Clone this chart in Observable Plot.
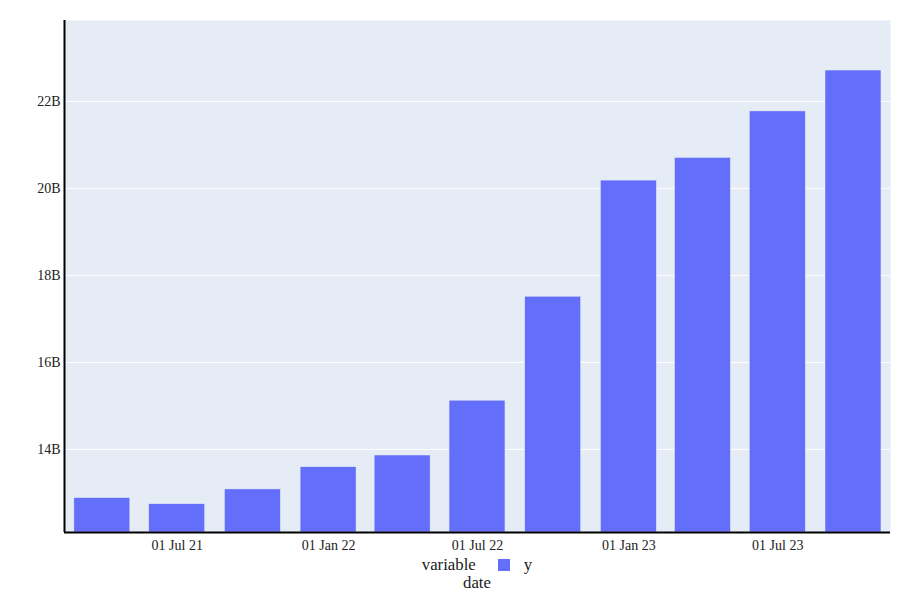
<!DOCTYPE html>
<html>
<head>
<meta charset="utf-8">
<script src="https://cdn.jsdelivr.net/npm/d3@7"></script>
<script src="https://cdn.jsdelivr.net/npm/@observablehq/plot@0.6"></script>
<style>
  body { margin: 0; background: #fff; font-family: "Liberation Serif", "Times New Roman", serif; color: #222; }
  #wrap { width: 900px; }
  .legend { box-sizing: border-box; width: 900px; padding-left: 64px; padding-right: 10px; height: 18px; line-height: 18px; display: flex; justify-content: center; align-items: center; font-size: 16.8px; }
  .legend .sw { display: inline-block; width: 12px; height: 12px; background: #636efa; margin-left: 22px; margin-right: 14px; }
  .xtitle { box-sizing: border-box; width: 900px; padding-left: 64px; padding-right: 10px; height: 18px; line-height: 18px; text-align: center; font-size: 16.8px; }
</style>
</head>
<body>
<div id="wrap"></div>
<script>
// Data (quarterly), values in billions
const dates = ["2021-04-01","2021-07-01","2021-10-01","2022-01-01","2022-04-01","2022-07-01","2022-10-01","2023-01-01","2023-04-01","2023-07-01","2023-10-01"];
const values = [12.88, 12.74, 13.08, 13.59, 13.86, 15.12, 17.51, 20.18, 20.70, 21.77, 22.71];
const seriesName = "y";
const legendTitle = "variable";
const xTitle = "date";
const xTickDates = ["2021-07-01","2022-01-01","2022-07-01","2023-01-01","2023-07-01"];
const yTicks = [14, 16, 18, 20, 22];
const xDomainDates = ["2021-02-14","2023-11-15"];
const yDomain = [12.09, 23.86];

const data = dates.map((d, i) => ({date: new Date(d + "T00:00:00Z"), value: values[i]}));
const xDomain = xDomainDates.map(d => new Date(d + "T00:00:00Z"));
const halfBar = 34; // days

const chart = Plot.plot({
  width: 900,
  height: 556,
  marginLeft: 64,
  marginRight: 10,
  marginTop: 20,
  marginBottom: 24,
  style: {fontFamily: "'Liberation Serif', 'Times New Roman', serif", fontSize: "14px", color: "#222", background: "#fff", overflow: "visible"},
  x: {type: "utc", domain: xDomain},
  y: {domain: yDomain},
  marks: [
    Plot.frame({fill: "#e5ecf6", stroke: null}),
    Plot.gridY(yTicks, {stroke: "#fff", strokeOpacity: 1, strokeWidth: 1}),
    Plot.rectY(data, {
      x1: d => d3.utcDay.offset(d.date, -halfBar),
      x2: d => d3.utcDay.offset(d.date, halfBar),
      y1: yDomain[0],
      y2: "value",
      fill: "#636efa",
      stroke: "#e5ecf6",
      strokeWidth: 0.5
    }),
    Plot.axisY({ticks: yTicks, tickSize: 0, tickPadding: 4, tickFormat: d => d + "B", label: null, fontSize: 14}),
    Plot.axisX({ticks: xTickDates.map(d => new Date(d + "T00:00:00Z")), tickSize: 0, tickPadding: 8, tickFormat: d3.utcFormat("%d %b %y"), label: null, fontSize: 14}),
    Plot.ruleX([xDomain[0]], {stroke: "#000", strokeWidth: 2}),
    Plot.ruleY([yDomain[0]], {stroke: "#000", strokeWidth: 2})
  ]
});

const wrap = document.getElementById("wrap");
wrap.appendChild(chart);

const legend = document.createElement("div");
legend.className = "legend";
legend.innerHTML = `<span>${legendTitle}</span><span class="sw"></span><span>${seriesName}</span>`;
wrap.appendChild(legend);

const xt = document.createElement("div");
xt.className = "xtitle";
xt.textContent = xTitle;
wrap.appendChild(xt);
</script>
</body>
</html>
